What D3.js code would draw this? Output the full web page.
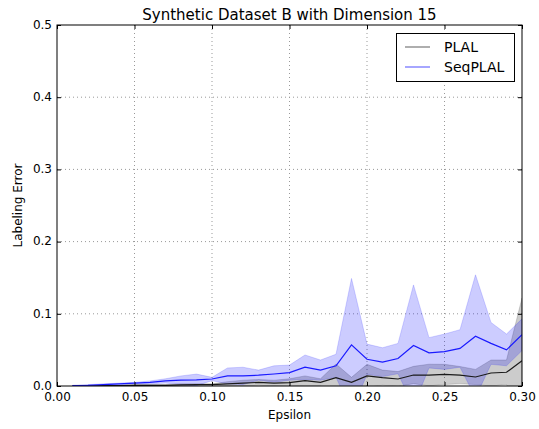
<!DOCTYPE html>
<html><head><meta charset="utf-8">
<script src="https://cdn.jsdelivr.net/npm/d3@7"></script>
<style>body{margin:0;background:#fff}svg{display:block}text{font-family:"DejaVu Sans",sans-serif}</style>
</head><body><svg id="c" width="539" height="429"></svg>
<script>
const epsilon = [0.01,0.02,0.03,0.04,0.05,0.06,0.07,0.08,0.09,0.10,0.11,0.12,0.13,0.14,0.15,0.16,0.17,0.18,0.19,0.20,0.21,0.22,0.23,0.24,0.25,0.26,0.27,0.28,0.29,0.30];
const plalMean = [0,0,0.0005,0.0005,0.001,0.001,0.001,0.0015,0.002,0.002,0.003,0.004,0.005,0.004,0.0046,0.0074,0.005,0.0115,0.005,0.014,0.0115,0.0097,0.0152,0.0152,0.016,0.015,0.0125,0.018,0.019,0.035];
const plalStd = [0,0,0.0005,0.0005,0.001,0.001,0.001,0.0015,0.001,0.001,0.003,0.004,0.004,0.004,0.0054,0.0066,0.005,0.019,0.007,0.016,0.0105,0.0103,0.012,0.015,0.014,0.012,0.0105,0.018,0.017,0.087];
const seqMean = [0.0005,0.001,0.002,0.003,0.004,0.005,0.007,0.008,0.0085,0.0097,0.014,0.014,0.015,0.0166,0.0185,0.026,0.022,0.028,0.057,0.037,0.033,0.038,0.056,0.046,0.0475,0.052,0.069,0.059,0.050,0.071];
const seqStd = [0.0005,0.001,0.001,0.001,0.001,0.002,0.003,0.006,0.008,0.0023,0.011,0.012,0.007,0.0114,0.0105,0.017,0.014,0.016,0.092,0.021,0.020,0.021,0.084,0.021,0.0245,0.026,0.085,0.029,0.022,0.022];
const xTicks = [0,0.05,0.10,0.15,0.20,0.25,0.30];
const yTicks = [0,0.1,0.2,0.3,0.4,0.5];
const seriesNames = ["PLAL","SeqPLAL"];

const svg = d3.select("#c");
const m = {l:57, r:522, t:25, b:386};
const x = d3.scaleLinear().domain([0,0.30]).range([m.l,m.r]);
const y = d3.scaleLinear().domain([0,0.5]).range([m.b,m.t]);

svg.append("defs").append("clipPath").attr("id","clip").append("rect")
  .attr("x",m.l).attr("y",m.t).attr("width",m.r-m.l).attr("height",m.b-m.t);

// grid
const g = svg.append("g");
g.selectAll(".gx").data(xTicks.slice(1,-1)).join("line")
  .attr("x1",d=>x(d)).attr("x2",d=>x(d)).attr("y1",m.t).attr("y2",m.b)
  .attr("stroke","#999").attr("stroke-dasharray","1,3");
g.selectAll(".gy").data(yTicks.slice(1,-1)).join("line")
  .attr("y1",d=>y(d)).attr("y2",d=>y(d)).attr("x1",m.l).attr("x2",m.r)
  .attr("stroke","#999").attr("stroke-dasharray","1,3");

const plot = svg.append("g").attr("clip-path","url(#clip)");
function band(mean, std, color){
  const a = d3.area().x((d,i)=>x(epsilon[i])).y0((d,i)=>y(mean[i]-std[i])).y1((d,i)=>y(mean[i]+std[i]));
  plot.append("path").datum(mean).attr("d",a).attr("fill",color).attr("fill-opacity",0.2)
    .attr("stroke",color).attr("stroke-opacity",0.2).attr("stroke-width",0.8);
}
function line(mean, color){
  const l = d3.line().x((d,i)=>x(epsilon[i])).y(d=>y(d));
  plot.append("path").datum(mean).attr("d",l).attr("fill","none").attr("stroke",color).attr("stroke-width",1.2);
}
band(plalMean, plalStd, "#000");
band(seqMean, seqStd, "#0000ff");
line(plalMean, "#1a1a1a");
line(seqMean, "#1a1aff");

// frame
svg.append("rect").attr("x",m.l).attr("y",m.t).attr("width",m.r-m.l).attr("height",m.b-m.t)
  .attr("fill","none").attr("stroke","#000").attr("stroke-width",1);

// axes (ticks inward)
const xa = svg.append("g").attr("transform",`translate(0,${m.b})`)
  .call(d3.axisBottom(x).tickValues(xTicks).tickFormat(d3.format(".2f")).tickSizeInner(-4).tickSizeOuter(0).tickPadding(6));
const xaTop = svg.append("g").attr("transform",`translate(0,${m.t})`)
  .call(d3.axisTop(x).tickValues(xTicks).tickFormat("").tickSizeInner(-4).tickSizeOuter(0));
const ya = svg.append("g").attr("transform",`translate(${m.l},0)`)
  .call(d3.axisLeft(y).tickValues(yTicks).tickFormat(d3.format(".1f")).tickSizeInner(-4).tickSizeOuter(0).tickPadding(5));
const yaR = svg.append("g").attr("transform",`translate(${m.r},0)`)
  .call(d3.axisRight(y).tickValues(yTicks).tickFormat("").tickSizeInner(-4).tickSizeOuter(0));
[xa,xaTop,ya,yaR].forEach(a=>{a.select(".domain").remove();a.selectAll("text").attr("font-size",12).attr("fill","#000").attr("font-family","DejaVu Sans");a.selectAll("line").attr("stroke","#000");});
ya.selectAll("text").attr("dy","0.28em");

svg.append("text").attr("x",(m.l+m.r)/2).attr("y",20).attr("text-anchor","middle").attr("font-size",15).text("Synthetic Dataset B with Dimension 15");
svg.append("text").attr("x",(m.l+m.r)/2).attr("y",419).attr("text-anchor","middle").attr("font-size",12).text("Epsilon");
svg.append("text").attr("transform",`translate(22,${(m.t+m.b)/2}) rotate(-90)`).attr("text-anchor","middle").attr("font-size",12).text("Labeling Error");

// legend
const lg = svg.append("g");
lg.append("rect").attr("x",396.5).attr("y",33.5).attr("width",118).attr("height",48).attr("fill","#fff").attr("stroke","#000");
const lcol = ["#777","#6b6bff"];
seriesNames.forEach((n,i)=>{
  const yy = 47 + i*20;
  lg.append("line").attr("x1",405).attr("x2",430).attr("y1",yy).attr("y2",yy).attr("stroke",lcol[i]).attr("stroke-width",1.2);
  lg.append("text").attr("x",444).attr("y",yy+5).attr("font-size",14).text(n);
});
</script></body></html>
